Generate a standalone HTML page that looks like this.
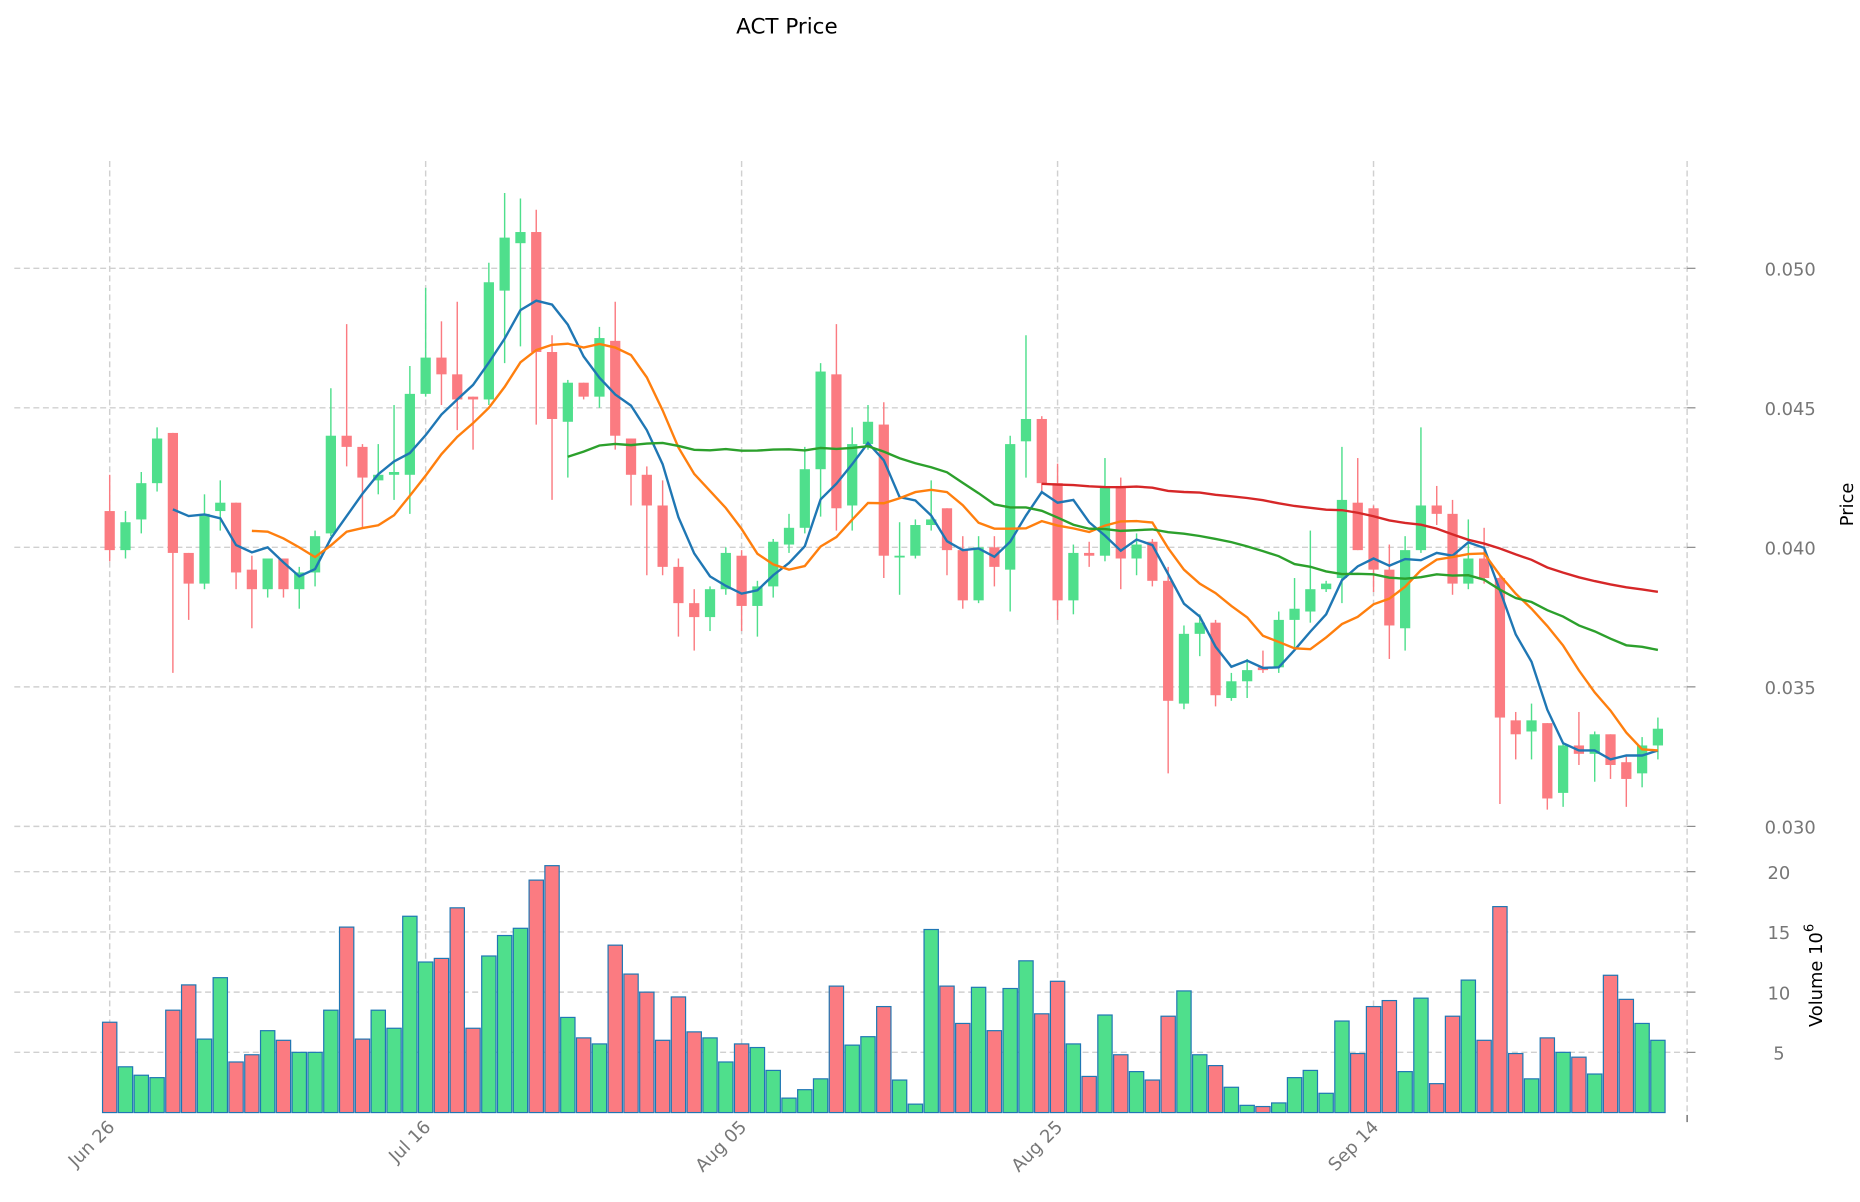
<!DOCTYPE html>
<html><head><meta charset="utf-8"><style>
html,body{margin:0;padding:0;background:#fff;}
svg{display:block;font-family:"DejaVu Sans","Liberation Sans",sans-serif;}
</style></head><body>
<svg id="chart" width="1860" height="1202" viewBox="0 0 1560 1008" preserveAspectRatio="none" xmlns="http://www.w3.org/2000/svg">
<text x="660" y="28" font-size="18" text-anchor="middle" fill="#000">ACT Price</text>
<g id="grid"></g>
<g id="vol"></g>
<g id="candles"></g>
<g id="mas"></g>
<g id="axes"></g>
<text transform="translate(1554,423) rotate(-90)" font-size="15" text-anchor="middle" fill="#000">Price</text>
<text transform="translate(1528,818) rotate(-90)" font-size="15" text-anchor="middle" fill="#000">Volume  10<tspan font-size="11" dy="-7">6</tspan></text>
</svg>
<script>
const opens  = [.0413,.0399,.0410,.0423,.0441,.0398,.0387,.0413,.0416,.0392,.0385,.0396,.0385,.0391,.0405,.0440,.0436,.0424,.0426,.0426,.0455,.0468,.0462,.0454,.0453,.0492,.0509,.0513,.0470,.0445,.0459,.0454,.0474,.0439,.0426,.0415,.0393,.0380,.0375,.0385,.0397,.0379,.0386,.0401,.0407,.0428,.0462,.0415,.0437,.0444,.0397,.0397,.0408,.0414,.0399,.0381,.0400,.0392,.0438,.0446,.0423,.0381,.0398,.0397,.0422,.0396,.0402,.0388,.0344,.0369,.0373,.0346,.0352,.0357,.0357,.0374,.0377,.0385,.0389,.0416,.0414,.0392,.0371,.0399,.0415,.0412,.0387,.0396,.0389,.0338,.0334,.0337,.0312,.0329,.0326,.0333,.0323,.0319,.0329];
const closes = [.0399,.0409,.0423,.0439,.0398,.0387,.0412,.0416,.0391,.0385,.0396,.0385,.0391,.0404,.0440,.0436,.0425,.0426,.0427,.0455,.0468,.0462,.0453,.0453,.0495,.0511,.0513,.0470,.0446,.0459,.0454,.0475,.0440,.0426,.0415,.0393,.0380,.0375,.0385,.0398,.0379,.0386,.0402,.0407,.0428,.0463,.0414,.0437,.0445,.0397,.0397,.0408,.0410,.0399,.0381,.0400,.0393,.0437,.0446,.0423,.0381,.0398,.0397,.0422,.0396,.0401,.0388,.0345,.0369,.0373,.0347,.0352,.0356,.0356,.0374,.0378,.0385,.0387,.0417,.0399,.0392,.0372,.0399,.0415,.0412,.0387,.0396,.0389,.0339,.0333,.0338,.0310,.0329,.0326,.0333,.0322,.0317,.0329,.0335];
const highs  = [.0426,.0413,.0427,.0443,.0441,.0398,.0419,.0424,.0416,.0397,.0396,.0396,.0393,.0406,.0457,.0480,.0437,.0437,.0451,.0465,.0493,.0481,.0488,.0454,.0502,.0527,.0525,.0521,.0476,.0460,.0459,.0479,.0488,.0439,.0429,.0424,.0396,.0385,.0386,.0400,.0399,.0388,.0403,.0412,.0436,.0466,.0480,.0443,.0451,.0452,.0409,.0410,.0424,.0414,.0404,.0404,.0404,.0440,.0476,.0447,.0430,.0401,.0402,.0432,.0425,.0405,.0403,.0393,.0372,.0376,.0374,.0355,.0360,.0363,.0377,.0389,.0406,.0388,.0436,.0432,.0415,.0401,.0404,.0443,.0422,.0417,.0410,.0407,.0390,.0341,.0344,.0337,.0330,.0341,.0334,.0333,.0325,.0332,.0339];
const lows   = [.0395,.0396,.0405,.0420,.0355,.0374,.0385,.0406,.0385,.0371,.0382,.0382,.0378,.0386,.0404,.0429,.0407,.0419,.0417,.0412,.0454,.0451,.0442,.0435,.0451,.0466,.0472,.0444,.0417,.0425,.0453,.0450,.0435,.0415,.0390,.0390,.0368,.0363,.0370,.0383,.0370,.0368,.0382,.0398,.0405,.0411,.0406,.0406,.0435,.0389,.0383,.0396,.0406,.0390,.0378,.0380,.0386,.0377,.0425,.0420,.0374,.0376,.0393,.0395,.0385,.0390,.0386,.0319,.0342,.0361,.0343,.0345,.0346,.0355,.0355,.0364,.0373,.0384,.0380,.0399,.0384,.0360,.0363,.0398,.0408,.0383,.0385,.0387,.0308,.0324,.0324,.0306,.0307,.0322,.0316,.0317,.0307,.0314,.0324];
const volumes = [7.5,3.8,3.1,2.9,8.5,10.6,6.1,11.2,4.2,4.8,6.8,6.0,5.0,5.0,8.5,15.4,6.1,8.5,7.0,16.3,12.5,12.8,17.0,7.0,13.0,14.7,15.3,19.3,20.5,7.9,6.2,5.7,13.9,11.5,10.0,6.0,9.6,6.7,6.2,4.2,5.7,5.4,3.5,1.2,1.9,2.8,10.5,5.6,6.3,8.8,2.7,0.7,15.2,10.5,7.4,10.4,6.8,10.3,12.6,8.2,10.9,5.7,3.0,8.1,4.8,3.4,2.7,8.0,10.1,4.8,3.9,2.1,0.6,0.5,0.8,2.9,3.5,1.6,7.6,4.9,8.8,9.3,3.4,9.5,2.4,8.0,11.0,6.0,17.1,4.9,2.8,6.2,5.0,4.6,3.2,11.4,9.4,7.4,6.0];
const dateLabels = ["Jun 26","Jul 16","Aug 05","Aug 25","Sep 14"];
const priceTicks = [0.030,0.035,0.040,0.045,0.050];
const volTicks = [5,10,15,20];
const maWindows = [5,10,30,60];
const maColors = ["#1f77b4","#ff7f0e","#2ca02c","#d62728"];

const NS="http://www.w3.org/2000/svg";
const X0=92, DX=13.25, LEFT=12, RIGHT=1415;
const xOf=i=>X0+i*DX;
const yP=p=>459-(p-0.040)*23400;
const yV=v=>933-v*10.1;
function mk(tag,attrs,parent){const e=document.createElementNS(NS,tag);for(const k in attrs)e.setAttribute(k,attrs[k]);parent.appendChild(e);return e;}
const grid=document.getElementById('grid'),axes=document.getElementById('axes');
const GREEN="#4fdf8c",RED="#fb7b81";
priceTicks.forEach(t=>{
  const l=mk('line',{x1:LEFT,x2:RIGHT,y1:yP(t),y2:yP(t),stroke:"#d0d0d0","stroke-dasharray":"5,3","stroke-width":1.2},grid);
  
  
  const tk=mk('line',{x1:RIGHT,x2:RIGHT+7,y1:yP(t),y2:yP(t),stroke:"#888"},axes);
  
  
  const tx=mk('text',{x:1480,y:yP(t)+6,"font-size":15,fill:"#777"},axes);
  
  
  tx.textContent=t.toFixed(3);
});
volTicks.forEach(t=>{
  const l=mk('line',{x1:LEFT,x2:RIGHT,y1:yV(t),y2:yV(t),stroke:"#d0d0d0","stroke-dasharray":"5,3","stroke-width":1.2},grid);
  
  
  const tk=mk('line',{x1:RIGHT,x2:RIGHT+7,y1:yV(t),y2:yV(t),stroke:"#888"},axes);
  
  
  const tx=mk('text',{x:1492,y:yV(t)+6,"font-size":15,fill:"#777","text-anchor":"middle"},axes);
  
  
  tx.textContent=t;
});
dateLabels.forEach((d,k)=>{
  const x=xOf(k*20);
  const l=mk('line',{x1:x,x2:x,y1:135,y2:935,stroke:"#d0d0d0","stroke-dasharray":"5,3","stroke-width":1.2},grid);
  
  
  const tx=mk('text',{x:0,y:0,"font-size":15,fill:"#777","text-anchor":"end",transform:`translate(${x+5},${946}) rotate(-45)`},axes);
  
  
  tx.textContent=d;
});
const rl=mk('line',{x1:RIGHT,x2:RIGHT,y1:135,y2:935,stroke:"#d0d0d0","stroke-dasharray":"5,3","stroke-width":1.2},grid);


const bt=mk('line',{x1:RIGHT,x2:RIGHT,y1:935,y2:941,stroke:"#555"},axes);


const vg=document.getElementById('vol');
volumes.forEach((v,i)=>{
  const up=closes[i]>=opens[i];
  const r=mk('rect',{x:xOf(i)-6,y:yV(v),width:12,height:933-yV(v),fill:up?GREEN:RED,stroke:"#1f77b4","stroke-width":1},vg);
  
  
});
const cg=document.getElementById('candles');
opens.forEach((o,i)=>{
  const c=closes[i],up=c>=o,col=up?GREEN:RED,x=xOf(i);
  const w=mk('line',{x1:x,x2:x,y1:yP(highs[i]),y2:yP(lows[i]),stroke:col,"stroke-width":1.2},cg);
  
  
  const top=yP(Math.max(o,c)),h=Math.max(1.5,Math.abs(yP(o)-yP(c)));
  const b=mk('rect',{x:x-4.3,y:top,width:8.6,height:h,fill:col},cg);
  
  
});
const mg=document.getElementById('mas');
maWindows.forEach((w,k)=>{
  const pts=[];
  for(let i=w-1;i<closes.length;i++){let s=0;for(let j=i-w+1;j<=i;j++)s+=closes[j];pts.push(xOf(i)+","+yP(s/w));}
  const p=mk('polyline',{points:pts.join(' '),fill:"none",stroke:maColors[k],"stroke-width":2},mg);
  
  
});
</script>
</body></html>
